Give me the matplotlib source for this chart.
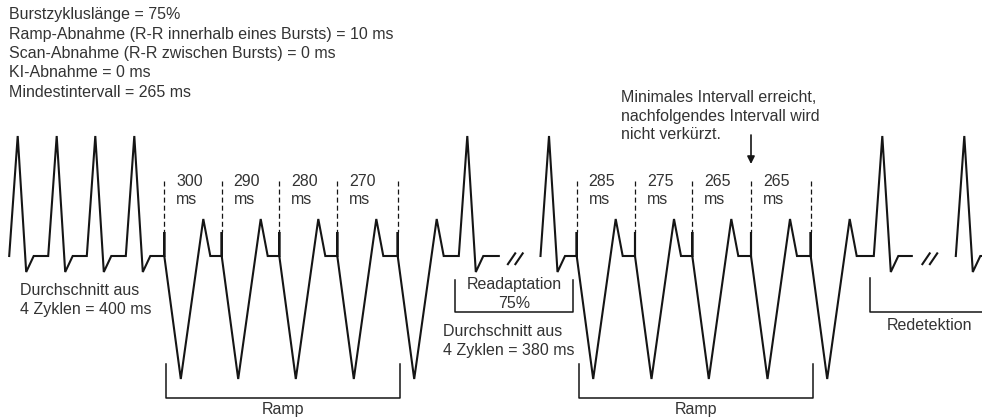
import matplotlib.pyplot as plt
import numpy as np

plt.rcParams['font.family'] = ['Liberation Sans', 'DejaVu Sans']
plt.rcParams['lines.scale_dashes'] = False

TEXT_COLOR = '#333333'
LINE_COLOR = '#151515'
FS = 11.5

# --- schematic data (time axis in drawing units, left to right) ---
BASELINE = 256
INTRINSIC_PEAK, INTRINSIC_TROUGH = 136, 272
PACED_SPIKE_TOP, PACED_TROUGH, PACED_PEAK = 232, 379, 219

# intrinsic (sensed) beats, split into the three strips between the breaks
sinus_strip_1 = [17.7, 56.7, 95.3, 134.3]
sinus_after_ramp_1 = [467.3]
sinus_strip_2 = [549.0]
sinus_after_ramp_2 = [882.3]
sinus_strip_3 = [964.3]

# pacing pulses of the two ramp bursts
ramp_1_pulses = [164.3, 221.7, 279.3, 337.3, 397.7]
ramp_2_pulses = [576.7, 635.0, 692.3, 751.0, 810.7]
ramp_1_intervals = ['300', '290', '280', '270']
ramp_2_intervals = ['285', '275', '265', '265']

settings_text = [
    'Burstzykluslänge = 75%',
    'Ramp-Abnahme (R-R innerhalb eines Bursts) = 10 ms',
    'Scan-Abnahme (R-R zwischen Bursts) = 0 ms',
    'KI-Abnahme = 0 ms',
    'Mindestintervall = 265 ms',
]
note_text = ['Minimales Intervall erreicht,',
             'nachfolgendes Intervall wird',
             'nicht verkürzt.']
avg_1_text = ['Durchschnitt aus', '4 Zyklen = 400 ms']
avg_2_text = ['Durchschnitt aus', '4 Zyklen = 380 ms']


def intrinsic_beat(p):
    return [(p - 8.5, BASELINE), (p, INTRINSIC_PEAK),
            (p + 8.5, INTRINSIC_TROUGH), (p + 16, BASELINE)]


def paced_beat(s):
    return [(s, BASELINE), (s, PACED_SPIKE_TOP), (s, BASELINE),
            (s + 16.5, PACED_TROUGH), (s + 39, PACED_PEAK), (s + 46, BASELINE)]


def strip(sinus, pulses=(), end=None):
    pts = []
    events = [(x, 'i') for x in sinus] + [(x, 'p') for x in pulses]
    for x, kind in sorted(events):
        pts += intrinsic_beat(x) if kind == 'i' else paced_beat(x)
    if end is not None:
        pts.append((end, BASELINE))
    xs, ys = zip(*pts)
    return np.array(xs), np.array(ys)


def break_mark(ax, x):
    for dx in (0, 7.5):
        ax.plot([x + dx, x + dx + 8.5], [265, 252.5], color=LINE_COLOR,
                lw=1.5, solid_capstyle='butt')


def bracket(ax, x0, x1, top, bottom, right=True):
    xs = [x0, x0, x1] + ([x1] if right else [])
    ys = [top, bottom, bottom] + ([top] if right else [])
    ax.plot(xs, ys, color=LINE_COLOR, lw=1.1)


def text_lines(ax, x, y0, lines, step, **kw):
    for i, line in enumerate(lines):
        ax.text(x, y0 + step * i, line, fontsize=FS, color=TEXT_COLOR,
                va='baseline', **kw)


fig = plt.figure(figsize=(9.82, 4.18), dpi=100)
ax = fig.add_axes([0, 0, 1, 1])
ax.set_xlim(0, 982)
ax.set_ylim(418, 0)
ax.axis('off')

# waveform strips
s1 = strip(sinus_strip_1 + sinus_after_ramp_1, ramp_1_pulses,
           end=sinus_after_ramp_1[-1] + 31.5)
s2 = strip(sinus_strip_2 + sinus_after_ramp_2, ramp_2_pulses,
           end=sinus_after_ramp_2[-1] + 29.5)
s3 = strip(sinus_strip_3, end=995)
for xs, ys in (s1, s2, s3):
    ax.plot(xs, ys, color=LINE_COLOR, lw=1.5, solid_joinstyle='miter')

break_mark(ax, s1[0][-1] + 8.5)
break_mark(ax, s2[0][-1] + 10)

# interval markers
for pulses, labels in ((ramp_1_pulses, ramp_1_intervals),
                       (ramp_2_pulses, ramp_2_intervals)):
    for i, x in enumerate(pulses):
        ax.plot([x, x], [181, PACED_SPIKE_TOP], color=LINE_COLOR, lw=0.9,
                linestyle=(0, (3.6, 2.2)))
        if i < len(labels):
            text_lines(ax, x + 12, 186, [labels[i], 'ms'], 18.5)

# brackets
for pulses in (ramp_1_pulses, ramp_2_pulses):
    x0, x1 = pulses[0] + 2, pulses[-1] + 2
    bracket(ax, x0, x1, 364, 397.7)
    ax.text((x0 + x1) / 2, 414, 'Ramp', fontsize=FS, color=TEXT_COLOR,
            ha='center', va='baseline')

x0, x1 = sinus_after_ramp_1[0] - 12, ramp_2_pulses[0] - 3.4
bracket(ax, x0, x1, 280, 311.7)
text_lines(ax, (x0 + x1) / 2, 288.5, ['Readaptation', '75%'], 19.5, ha='center')

x0 = sinus_after_ramp_2[0] - 12.3
bracket(ax, x0, 990, 278, 311.7, right=False)
ax.text(x0 + 16.5, 330, 'Redetektion', fontsize=FS, color=TEXT_COLOR,
        va='baseline')

# averages
text_lines(ax, 20.5, 295, avg_1_text, 19)
text_lines(ax, 443.5, 336.5, avg_2_text, 18.5)

# settings block
text_lines(ax, 9, 19.5, settings_text, 19.3)

# note with arrow
text_lines(ax, 621, 102, note_text, 18.5)
ax.annotate('', xy=(ramp_2_pulses[3], 164), xytext=(ramp_2_pulses[3], 135),
            arrowprops=dict(arrowstyle='-|>', color=LINE_COLOR, lw=1.2,
                            mutation_scale=11, shrinkA=0, shrinkB=0))

fig.savefig('out.png', dpi=100)
